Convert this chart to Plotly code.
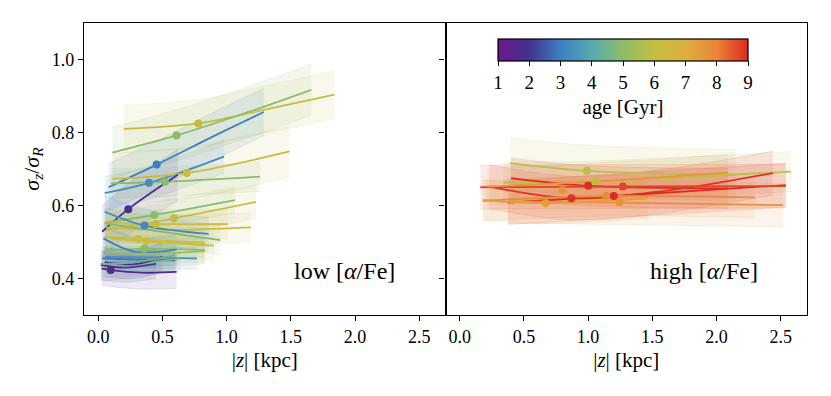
import plotly.graph_objects as go
from plotly.colors import sample_colorscale, unlabel_rgb

# ---------------- data ----------------
age_ticks = [1, 2, 3, 4, 5, 6, 7, 8, 9]
x_ticks = [0.0, 0.5, 1.0, 1.5, 2.0, 2.5]
y_ticks = [0.4, 0.6, 0.8, 1.0]

# low [alpha/Fe] populations
low_age = [6.1, 5.0, 3.0, 3.3, 6.3, 4.9, 1.9, 4.9, 6.1, 6.3, 6.2, 3.2, 4.8,
           6.0, 6.4, 5.0, 3.0, 3.4, 2.9, 4.6, 5.2, 1.9, 1.8, 2.1, 4.5]
low_x = [
    [0.20, 0.78, 1.29, 1.84],
    [0.11, 0.61, 1.16, 1.66],
    [0.08, 0.455, 0.90, 1.29],
    [0.05, 0.395, 0.98],
    [0.11, 0.69, 1.49],
    [0.10, 0.52, 1.26],
    [0.03, 0.234, 0.62],
    [0.05, 0.436, 1.065],
    [0.06, 0.59, 1.23],
    [0.06, 0.447, 1.01],
    [0.06, 0.50, 1.19],
    [0.05, 0.36, 0.86],
    [0.05, 0.50, 0.95],
    [0.05, 0.312, 0.83],
    [0.10, 0.377, 0.90],
    [0.05, 0.358, 0.83],
    [0.04, 0.29, 0.61],
    [0.05, 0.40, 0.77],
    [0.03, 0.30, 0.60],
    [0.02, 0.30, 0.64],
    [0.05, 0.40, 0.83],
    [0.05, 0.30, 0.50],
    [0.03, 0.097, 0.35, 0.61],
    [0.02, 0.20, 0.45],
    [0.02, 0.30, 0.60],
]
low_y = [
    [0.810, 0.825, 0.862, 0.904],
    [0.745, 0.792, 0.855, 0.917],
    [0.650, 0.712, 0.790, 0.856],
    [0.634, 0.662, 0.734],
    [0.673, 0.689, 0.748],
    [0.661, 0.665, 0.679],
    [0.528, 0.590, 0.684],
    [0.553, 0.574, 0.615],
    [0.532, 0.565, 0.610],
    [0.552, 0.549, 0.549],
    [0.540, 0.533, 0.540],
    [0.583, 0.545, 0.522],
    [0.551, 0.528, 0.505],
    [0.515, 0.508, 0.498],
    [0.510, 0.502, 0.490],
    [0.476, 0.482, 0.478],
    [0.510, 0.473, 0.480],
    [0.459, 0.458, 0.455],
    [0.455, 0.452, 0.450],
    [0.427, 0.440, 0.455],
    [0.470, 0.468, 0.475],
    [0.444, 0.440, 0.459],
    [0.427, 0.423, 0.416, 0.418],
    [0.437, 0.430, 0.440],
    [0.440, 0.445, 0.465],
]
low_w = [0.065, 0.07, 0.065, 0.045, 0.07, 0.04, 0.07, 0.035, 0.045, 0.04, 0.04,
         0.045, 0.04, 0.04, 0.04, 0.035, 0.04, 0.03, 0.03, 0.035, 0.035, 0.04,
         0.045, 0.04, 0.035]
low_dot_x = [0.78, 0.61, 0.455, 0.395, 0.69, 0.52, 0.234, 0.436, 0.59, 0.447, None,
             0.36, None, 0.312, 0.377, 0.358, None, None, None, None, None, None,
             0.097, None, None]
low_dot_y = [0.825, 0.792, 0.712, 0.662, 0.689, 0.665, 0.590, 0.574, 0.565, 0.549, None,
             0.545, None, 0.508, 0.502, 0.482, None, None, None, None, None, None,
             0.423, None, None]

# high [alpha/Fe] populations
high_age = [5.8, 5.9, 9.0, 8.9, 9.0, 8.7, 7.8, 7.6, 7.7, 7.4]
high_x = [
    [0.39, 0.99, 2.15],
    [0.34, 1.06, 2.58],
    [0.40, 1.00, 2.09],
    [0.23, 0.87, 1.60, 2.44],
    [0.375, 1.20, 2.54],
    [0.16, 1.27, 2.54],
    [0.18, 1.14, 2.30],
    [0.21, 1.00, 2.09],
    [0.375, 1.245, 2.52],
    [0.18, 0.67, 1.47],
]
high_y = [
    [0.716, 0.695, 0.684],
    [0.663, 0.667, 0.693],
    [0.675, 0.654, 0.647],
    [0.652, 0.620, 0.640, 0.689],
    [0.608, 0.626, 0.656],
    [0.650, 0.652, 0.653],
    [0.613, 0.626, 0.622],
    [0.652, 0.665, 0.690],
    [0.611, 0.608, 0.601],
    [0.615, 0.606, 0.620],
]
high_w = [0.07, 0.055, 0.055, 0.06, 0.06, 0.06, 0.055, 0.05, 0.06, 0.055]
high_dot_x = [0.99, 1.06, 1.00, 0.87, 1.20, 1.27, 1.14, 0.80, 1.245, 0.67]
high_dot_y = [0.695, 0.667, 0.654, 0.620, 0.626, 0.652, 0.626, 0.642, 0.608, 0.606]

# ---------------- style ----------------
AGE_SCALE = [[0.0, '#6a1a8c'], [0.125, '#433190'], [0.25, '#3e7fc1'],
             [0.375, '#56aab0'], [0.5, '#8cbd66'], [0.625, '#c4bf40'],
             [0.75, '#dcaf40'], [0.875, '#ea8535'], [1.0, '#dd2a22']]
FONT = 'Liberation Serif'


def age_rgb(age):
    c = sample_colorscale(AGE_SCALE, [(age - 1) / 8.0])[0]
    r, g, b = unlabel_rgb(c)
    return int(r), int(g), int(b)


def rgba(age, a):
    r, g, b = age_rgb(age)
    return f'rgba({r},{g},{b},{a})'


fig = go.Figure()


def add_panel(ages, xs, ys, ws, dx, dy, xa, ya):
    # bands
    for age, x, y, w in zip(ages, xs, ys, ws):
        lo = [v - w for v in y]
        hi = [v + w for v in y]
        fig.add_trace(go.Scatter(x=x, y=lo, mode='lines', xaxis=xa, yaxis=ya,
                                 line=dict(color=rgba(age, 0.16), width=0.8, shape='spline'),
                                 showlegend=False, hoverinfo='skip'))
        fig.add_trace(go.Scatter(x=x, y=hi, mode='lines', xaxis=xa, yaxis=ya,
                                 fill='tonexty', fillcolor=rgba(age, 0.10),
                                 line=dict(color=rgba(age, 0.16), width=0.8, shape='spline'),
                                 showlegend=False, hoverinfo='skip'))
    # lines
    for age, x, y in zip(ages, xs, ys):
        fig.add_trace(go.Scatter(x=x, y=y, mode='lines', xaxis=xa, yaxis=ya,
                                 line=dict(color=rgba(age, 1), width=1.8, shape='spline'),
                                 showlegend=False))
    # dots
    for age, x, y in zip(ages, dx, dy):
        if x is None:
            continue
        fig.add_trace(go.Scatter(x=[x], y=[y], mode='markers', xaxis=xa, yaxis=ya,
                                 marker=dict(color=rgba(age, 1), size=8),
                                 showlegend=False))


add_panel(low_age, low_x, low_y, low_w, low_dot_x, low_dot_y, 'x', 'y')
add_panel(high_age, high_x, high_y, high_w, high_dot_x, high_dot_y, 'x2', 'y2')

# colorbar carrier
fig.add_trace(go.Scatter(
    x=[None], y=[None], mode='markers', xaxis='x2', yaxis='y2', showlegend=False,
    marker=dict(color=[1], cmin=1, cmax=9, colorscale=AGE_SCALE, showscale=True,
                colorbar=dict(
                    orientation='h', lenmode='pixels', len=250, thickness=22,
                    x=(623 - 84) / 723, xanchor='center',
                    y=(315 - 39) / 292, yanchor='top', xpad=0, ypad=0,
                    outlinecolor='black', outlinewidth=1.2,
                    tickmode='array', tickvals=age_ticks,
                    ticktext=[str(a) for a in age_ticks],
                    ticks='outside', ticklen=5, tickcolor='black',
                    tickfont=dict(family=FONT, size=19, color='black'),
                    title=dict(text='age [Gyr]', side='bottom',
                               font=dict(family=FONT, size=21, color='black')),
                ))))

axis_common = dict(
    range=[-0.111, 2.705], tickmode='array', tickvals=x_ticks,
    ticktext=[f'{v:.1f}' for v in x_ticks],
    showline=True, linecolor='black', linewidth=1.2, mirror=True,
    ticks='outside', ticklen=5, tickcolor='black', tickwidth=1.2,
    showgrid=False, zeroline=False, automargin=False,
    tickfont=dict(family=FONT, size=18, color='black'),
    title=dict(text='|<i>z</i>| [kpc]', font=dict(family=FONT, size=21, color='black'),
               standoff=6),
)
yaxis_common = dict(
    range=[0.3, 1.1], tickmode='array', tickvals=y_ticks,
    ticktext=[f'{v:.1f}' for v in y_ticks],
    showline=True, linecolor='black', linewidth=1.2, mirror=True,
    ticks='outside', ticklen=5, tickcolor='black', tickwidth=1.2,
    showgrid=False, zeroline=False, automargin=False,
    tickfont=dict(family=FONT, size=18, color='black'),
)

fig.update_layout(
    width=831, height=396,
    margin=dict(l=84, r=24, t=23, b=81),
    paper_bgcolor='white', plot_bgcolor='white',
    xaxis=dict(domain=[0, 0.5], anchor='y', **axis_common),
    xaxis2=dict(domain=[0.5, 1], anchor='y2', **axis_common),
    yaxis=dict(domain=[0, 1], anchor='x',
               title=dict(text='<i>σ<sub>z</sub></i>/<i>σ<sub>R</sub></i>',
                          font=dict(family=FONT, size=22, color='black'), standoff=6),
               **yaxis_common),
    yaxis2=dict(domain=[0, 1], anchor='x2', matches='y', showticklabels=False,
                **yaxis_common),
    annotations=[
        dict(text='low [<i>α</i>/Fe]', x=2.33, y=0.42, xref='x', yref='y',
             xanchor='right', yanchor='middle', showarrow=False,
             font=dict(family=FONT, size=24, color='black')),
        dict(text='high [<i>α</i>/Fe]', x=2.335, y=0.42, xref='x2', yref='y2',
             xanchor='right', yanchor='middle', showarrow=False,
             font=dict(family=FONT, size=24, color='black')),
    ],
)

fig.write_html('out.html', config={'displayModeBar': False},
               post_script="document.body.style.margin='0';")
